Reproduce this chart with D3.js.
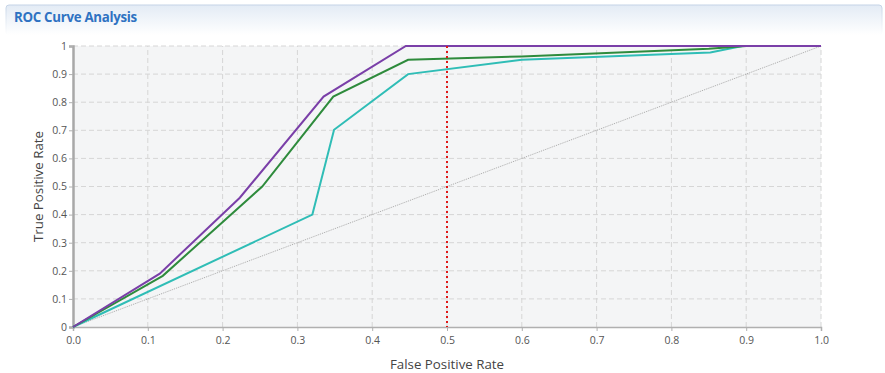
<!DOCTYPE html>
<html><head><meta charset="utf-8">
<script src="https://cdn.jsdelivr.net/npm/d3@7"></script>
<style>
body{margin:0;background:#fff;font-family:"Open Sans","Noto Sans",sans-serif;}
</style></head>
<body>
<svg id="chart" width="885" height="373"></svg>
<script>
const title = "ROC Curve Analysis";
const xLabel = "False Positive Rate";
const yLabel = "True Positive Rate";
const xTicks = [0,0.1,0.2,0.3,0.4,0.5,0.6,0.7,0.8,0.9,1.0];
const yTicks = [0,0.1,0.2,0.3,0.4,0.5,0.6,0.7,0.8,0.9,1];
const purpleFPR = [0, 0.116, 0.223, 0.335, 0.445, 1.0];
const purpleTPR = [0, 0.19, 0.46, 0.82, 1.0, 1.0];
const greenFPR = [0, 0.12, 0.253, 0.348, 0.448, 0.6, 0.85, 0.9, 1.0];
const greenTPR = [0, 0.182, 0.50, 0.82, 0.951, 0.963, 0.99, 1.0, 1.0];
const cyanFPR = [0, 0.32, 0.349, 0.448, 0.6, 0.852, 0.895, 1.0];
const cyanTPR = [0, 0.40, 0.702, 0.90, 0.951, 0.977, 1.0, 1.0];
const diagFPR = [0, 1];
const diagTPR = [0, 1];
const cutoff = 0.5;

const svg = d3.select("#chart");
const defs = svg.append("defs");
const grad = defs.append("linearGradient").attr("id","hdr").attr("x1",0).attr("y1",0).attr("x2",0).attr("y2",1);
grad.append("stop").attr("offset","0%").attr("stop-color","#e3ebf5");
grad.append("stop").attr("offset","100%").attr("stop-color","#ffffff");
const gradL = defs.append("linearGradient").attr("id","hdrL").attr("x1",0).attr("y1",0).attr("x2",0).attr("y2",1);
gradL.append("stop").attr("offset","0%").attr("stop-color","#c4d3e6");
gradL.append("stop").attr("offset","100%").attr("stop-color","#ffffff");

// header panel
svg.append("rect").attr("x",6).attr("y",5).attr("width",876).attr("height",30).attr("rx",3)
  .attr("fill","url(#hdr)").attr("stroke","url(#hdrL)").attr("stroke-width",1);
svg.append("text").attr("x",14).attr("y",22).text(title)
  .attr("font-family","'Open Sans',sans-serif").attr("font-weight","bold").attr("font-size",13.3)
  .attr("fill","#2f72c2").attr("letter-spacing",-0.3);

const x = d3.scaleLinear().domain([0,1]).range([73,821]);
const y = d3.scaleLinear().domain([0,1]).range([327,46]);

// plot background
svg.append("rect").attr("x",x(0)).attr("y",y(1)).attr("width",x(1)-x(0)).attr("height",y(0)-y(1)).attr("fill","#f4f5f6");

// grid
svg.append("g").selectAll("line").data(xTicks.slice(1)).join("line")
  .attr("x1",d=>x(d)).attr("x2",d=>x(d)).attr("y1",y(0)).attr("y2",y(1))
  .attr("stroke","#d6d6d6").attr("stroke-dasharray","5,3");
svg.append("g").selectAll("line").data(yTicks.slice(1)).join("line")
  .attr("x1",x(0)).attr("x2",x(1)).attr("y1",d=>y(d)).attr("y2",d=>y(d))
  .attr("stroke","#d6d6d6").attr("stroke-dasharray","5,3");

// axes
const xAxis = svg.append("g").attr("transform",`translate(0,${y(0)})`)
  .call(d3.axisBottom(x).tickValues(xTicks).tickFormat(d3.format(".1f")).tickSize(4).tickPadding(6));
const yAxis = svg.append("g").attr("transform",`translate(${x(0)},0)`)
  .call(d3.axisLeft(y).tickValues(yTicks).tickFormat(d=>d3.format("~g")(d)).tickSize(4).tickPadding(2));
[xAxis,yAxis].forEach(a=>{
  a.selectAll("text").attr("font-family","'Open Sans',sans-serif").attr("font-size",10.5).attr("fill","#555");
  a.selectAll("line").attr("stroke","#b0b0b0");
  a.select(".domain").attr("stroke","#b0b0b0");
});
yAxis.select(".domain").attr("stroke","#a8a8a8").attr("stroke-width",2.5);
xAxis.select(".domain").attr("stroke-width",1.5);

svg.append("text").attr("x",(x(0)+x(1))/2).attr("y",369).attr("text-anchor","middle")
  .attr("font-family","'Open Sans',sans-serif").attr("font-size",13.3).attr("fill","#444").text(xLabel);
svg.append("text").attr("transform",`translate(43,${(y(0)+y(1))/2}) rotate(-90)`).attr("text-anchor","middle")
  .attr("font-family","'Open Sans',sans-serif").attr("font-size",13.3).attr("fill","#444").text(yLabel);

const line = d3.line().x(d=>x(d[0])).y(d=>y(d[1]));
const zip = (a,b)=>a.map((v,i)=>[v,b[i]]);

svg.append("path").datum(zip(diagFPR,diagTPR)).attr("d",line).attr("fill","none")
  .attr("stroke","#a9a9a9").attr("stroke-width",1).attr("stroke-dasharray","1,1");
svg.append("path").datum(zip(cyanFPR,cyanTPR)).attr("d",line).attr("fill","none")
  .attr("stroke","#2fbdb6").attr("stroke-width",2);
svg.append("path").datum(zip(greenFPR,greenTPR)).attr("d",line).attr("fill","none")
  .attr("stroke","#2e8b3c").attr("stroke-width",2);
svg.append("path").datum(zip(purpleFPR,purpleTPR)).attr("d",line).attr("fill","none")
  .attr("stroke","#7a3fa8").attr("stroke-width",2);

svg.append("line").attr("x1",x(cutoff)).attr("x2",x(cutoff)).attr("y1",y(1)).attr("y2",y(0))
  .attr("stroke","#e01818").attr("stroke-width",2).attr("stroke-dasharray","2,3");
</script>
</body></html>
